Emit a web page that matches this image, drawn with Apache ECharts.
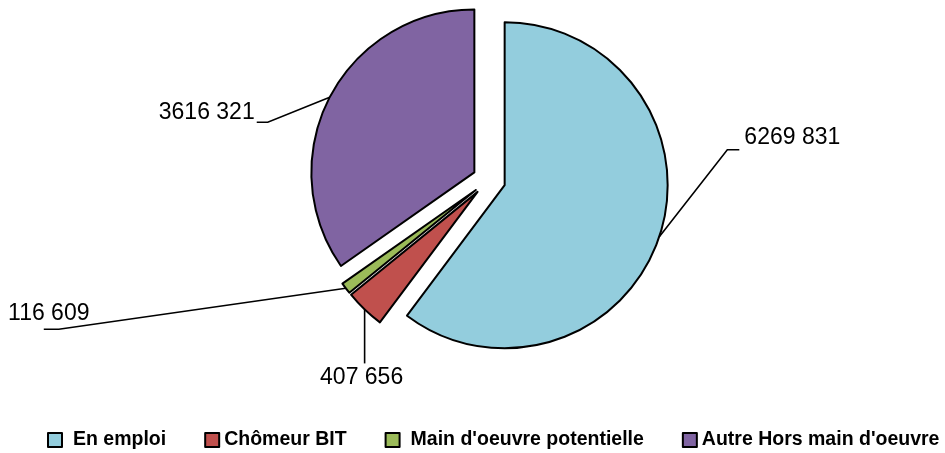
<!DOCTYPE html>
<html><head><meta charset="utf-8">
<script src="https://cdn.jsdelivr.net/npm/echarts@6/dist/echarts.min.js"></script>
<style>html,body{margin:0;padding:0;background:#fff}#c{width:945px;height:453px}</style>
</head><body><div id="c"></div>
<script>
const categories = ['En emploi', 'Chômeur BIT', "Main d'oeuvre potentielle", "Autre Hors main d'oeuvre"];
const values = [6269831, 407656, 116609, 3616321];
const colors = ['#93CDDD', '#C0504D', '#9BBB59', '#8064A2'];

const CX = 489, CY = 180, R = 163, OFF = 16.5;
// label placement, relative to the (exploded) outer edge point at each slice's mid-angle
const labelPlace = [
  { bend: [68, -87], end: [80, -87], text: [133, -99] },
  { bend: [0, 30], end: [0, 54], text: [-3, 68] },
  { bend: [-287, 41], end: [-302, 41], text: [-297, 25] },
  { bend: [-62, 25], end: [-73, 25], text: [-123, 15.5] }
];
const total = values.reduce((a, b) => a + b, 0);
function edgePoint(i) {
  let before = 0;
  for (let k = 0; k < i; k++) before += values[k];
  const mid = (before + values[i] / 2) / total * 2 * Math.PI;
  const d = R + OFF;
  return [CX + d * Math.sin(mid), CY - d * Math.cos(mid)];
}
function fmt(v) { return String(v).replace(/(\d{3})$/, ' $1'); }

const chart = echarts.init(document.getElementById('c'), null, { renderer: 'canvas' });
chart.setOption({
  animation: false,
  backgroundColor: '#fff',
  legend: {
    left: 47, top: 430, padding: 0,
    itemWidth: 14, itemHeight: 14, itemGap: 38, icon: 'rect',
    itemStyle: { borderColor: '#000', borderWidth: 2 },
    textStyle: { fontFamily: "'Liberation Sans', Arial, sans-serif", fontWeight: 'bold', fontSize: 19.5, color: '#000' },
    selectedMode: false,
    data: categories.map((n, i) => ({ name: n, textStyle: { padding: [0, 0, 0, i % 2 === 0 ? 6 : 0] } }))
  },
  series: [{
    // visible exploded pie
    type: 'pie',
    z: 3,
    center: [CX, CY],
    radius: R,
    startAngle: 90,
    clockwise: true,
    selectedMode: 'multiple',
    selectedOffset: OFF,
    itemStyle: { borderColor: '#000', borderWidth: 2 },
    data: categories.map((n, i) => ({ name: n, value: values[i], selected: true, itemStyle: { color: colors[i] } })),
    label: { show: false },
    labelLine: { show: false },
    emphasis: { disabled: true },
    select: { itemStyle: { borderColor: '#000', borderWidth: 2 } }
  }, {
    // same data, transparent: carries the value labels and leader lines
    type: 'pie',
    z: 2,
    silent: true,
    center: [CX, CY],
    radius: R,
    startAngle: 90,
    clockwise: true,
    selectedMode: false,
    avoidLabelOverlap: false,
    itemStyle: { color: 'rgba(0,0,0,0)', borderWidth: 0 },
    data: categories.map((n, i) => ({ name: n, value: values[i] })),
    label: {
      show: true,
      formatter: p => fmt(values[p.dataIndex]),
      fontFamily: "'Liberation Sans', Arial, sans-serif",
      fontSize: 23,
      color: '#000'
    },
    labelLine: { show: true, length: 20, length2: 20, lineStyle: { color: '#000', width: 1.6 } },
    labelLayout: function (p) {
      const i = p.dataIndex;
      const e = edgePoint(i);
      const pl = labelPlace[i];
      return {
        x: e[0] + pl.text[0],
        y: e[1] + pl.text[1],
        align: 'center',
        verticalAlign: 'middle',
        labelLinePoints: [
          [e[0], e[1]],
          [e[0] + pl.bend[0], e[1] + pl.bend[1]],
          [e[0] + pl.end[0], e[1] + pl.end[1]]
        ]
      };
    },
    emphasis: { disabled: true }
  }]
});
</script>
</body></html>
